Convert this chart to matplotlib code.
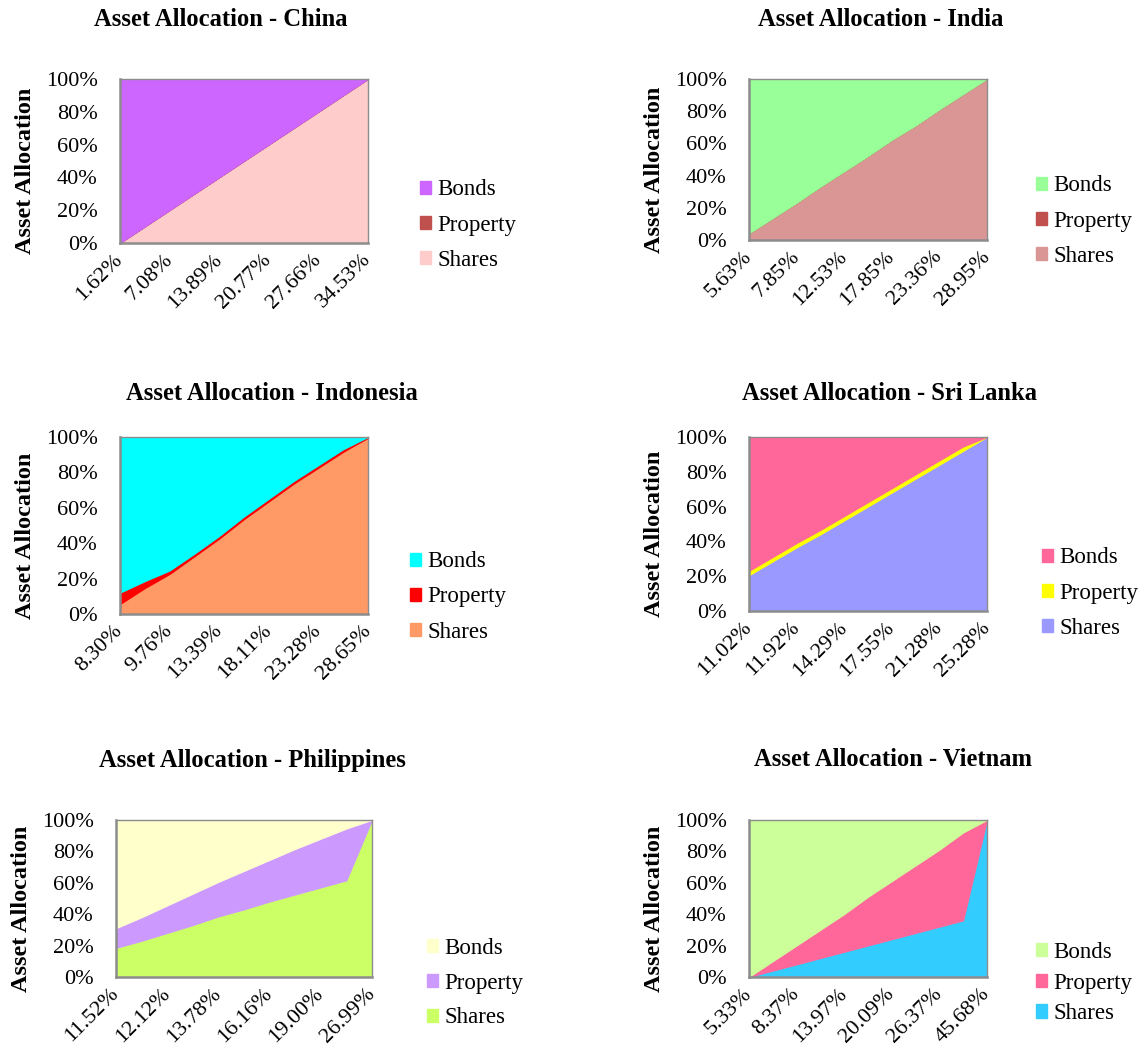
import matplotlib
matplotlib.use("Agg")
import matplotlib.pyplot as plt
from matplotlib.patches import Patch
from matplotlib.ticker import FuncFormatter

plt.rcParams['font.family'] = ['Liberation Serif', 'DejaVu Serif']

W, H = 1143, 1059

# Asset mix (%) along each country's return scale, 11 points per chart
china_labels = ['1.62%', '7.08%', '13.89%', '20.77%', '27.66%', '34.53%']
china_shares = [0, 10, 20, 30, 40, 50, 60, 70, 80, 90, 100]
china_property = [0, 0, 0, 0, 0, 0, 0, 0, 0, 0, 0]
china_bonds = [100, 90, 80, 70, 60, 50, 40, 30, 20, 10, 0]

india_labels = ['5.63%', '7.85%', '12.53%', '17.85%', '23.36%', '28.95%']
india_shares = [4, 13.5, 23, 33, 42.5, 52, 62, 71, 81, 90.5, 100]
india_property = [0, 0, 0, 0, 0, 0, 0, 0, 0, 0, 0]
india_bonds = [96, 86.5, 77, 67, 57.5, 48, 38, 29, 19, 9.5, 0]

indonesia_labels = ['8.30%', '9.76%', '13.39%', '18.11%', '23.28%', '28.65%']
indonesia_shares = [6, 15, 23, 33, 43, 54, 64, 74, 83, 92, 100]
indonesia_property = [6, 3.5, 1.5, 1, 1, 1, 1, 1, 1, 1, 0]
indonesia_bonds = [88, 81.5, 75.5, 66, 56, 45, 35, 25, 16, 7, 0]

srilanka_labels = ['11.02%', '11.92%', '14.29%', '17.55%', '21.28%', '25.28%']
srilanka_shares = [20.5, 28.5, 36.5, 44, 52, 60, 68, 76, 84, 92, 100]
srilanka_property = [2.5, 2.5, 2.5, 2.5, 2.5, 2.5, 2.5, 2.5, 2.5, 2.5, 0]
srilanka_bonds = [77, 69, 61, 53.5, 45.5, 37.5, 29.5, 21.5, 13.5, 5.5, 0]

philippines_labels = ['11.52%', '12.12%', '13.78%', '16.16%', '19.00%', '26.99%']
philippines_shares = [18.5, 23, 28, 33, 38.5, 43, 48, 52.5, 57, 61.5, 100]
philippines_property = [12.5, 15, 17.5, 20, 22, 24.5, 26.5, 29, 31, 33, 0]
philippines_bonds = [69, 62, 54.5, 47, 39.5, 32.5, 25.5, 18.5, 12, 5.5, 0]

vietnam_labels = ['5.33%', '8.37%', '13.97%', '20.09%', '26.37%', '45.68%']
vietnam_shares = [0, 4, 8, 12, 16, 20, 24, 28, 32, 36, 100]
vietnam_property = [0, 6, 12, 18, 24, 31, 37, 43, 49, 56, 0]
vietnam_bonds = [100, 90, 80, 70, 60, 49, 39, 29, 19, 8, 0]

series = ['Bonds', 'Property', 'Shares']

# name, labels, shares, property, bonds, colours (bonds, property, shares)
charts = [
    ('China', china_labels, china_shares, china_property, china_bonds,
     ['#CC66FF', '#C0504D', '#FFCCCC']),
    ('India', india_labels, india_shares, india_property, india_bonds,
     ['#99FF99', '#C0504D', '#D99694']),
    ('Indonesia', indonesia_labels, indonesia_shares, indonesia_property, indonesia_bonds,
     ['#00FFFF', '#FF0000', '#FF9966']),
    ('Sri Lanka', srilanka_labels, srilanka_shares, srilanka_property, srilanka_bonds,
     ['#FF6699', '#FFFF00', '#9999FF']),
    ('Philippines', philippines_labels, philippines_shares, philippines_property, philippines_bonds,
     ['#FFFFCC', '#CC99FF', '#CCFF66']),
    ('Vietnam', vietnam_labels, vietnam_shares, vietnam_property, vietnam_bonds,
     ['#CCFF99', '#FF6699', '#33CCFF']),
]

# pixel layout: plot box (left, top, right, bottom), title centre, legend (x, centre y, spacing)
layout = [
    ((120, 79, 368, 243), (221, 19), (420, 225, 0.62)),
    ((749, 79, 987, 240), (881, 19), (1036, 221, 0.62)),
    ((120, 437, 368, 614), (272, 394), (410, 597, 0.62)),
    ((749, 437, 987, 611), (889, 393), (1042, 593, 0.62)),
    ((116, 820, 372, 977), (252, 760), (427, 983, 0.6)),
    ((749, 820, 987, 977), (893, 760), (1036, 983, 0.42)),
]

fig = plt.figure(figsize=(W / 100, H / 100), dpi=100)

for (name, labels, shares, prop, bonds, colors), (box, tpos, leg) in zip(charts, layout):
    l, t, r, b = box
    ax = fig.add_axes([l / W, 1 - b / H, (r - l) / W, (b - t) / H])
    x = list(range(len(shares)))
    fills = [colors[2], colors[1], colors[0]]
    polys = ax.stackplot(x, shares, prop, bonds, colors=fills)
    for p, c in zip(polys, fills):
        p.set_edgecolor(c)
        p.set_linewidth(0.6)
    if name == 'Indonesia':
        polys[1].set_linewidth(1.6)

    ax.set_xlim(0, len(shares) - 1)
    ax.set_ylim(0, 100)
    ax.set_xticks(x[::2])
    ax.set_xticklabels(labels, rotation=45, ha='right', va='center', rotation_mode='anchor')
    ax.set_yticks([0, 20, 40, 60, 80, 100])
    ax.yaxis.set_major_formatter(FuncFormatter(lambda v, pos: f'{v:.0f}%'))
    ax.tick_params(axis='y', length=0, pad=16, labelsize=16)
    ax.tick_params(axis='x', length=0, pad=10, labelsize=16)
    for side, sp in ax.spines.items():
        sp.set_color('#8c8c8c')
        sp.set_linewidth(1.8 if side in ('bottom', 'left') else 1.0)

    ax.set_ylabel('Asset Allocation', fontsize=17.5, fontweight='bold')
    ax.yaxis.set_label_coords(-84 / (r - l), 0.5 - 10 / (b - t))

    fig.text(tpos[0] / W, 1 - tpos[1] / H, f'Asset Allocation - {name}',
             ha='center', va='center', fontsize=17.7, fontweight='bold')

    handles = [Patch(facecolor=c, edgecolor=c) for c in colors]
    fig.legend(handles, series, loc='center left',
               bbox_to_anchor=(leg[0] / W, 1 - leg[1] / H),
               frameon=False, fontsize=16.5, borderpad=0, borderaxespad=0,
               handlelength=0.5, handleheight=0.5, handletextpad=0.25,
               labelspacing=leg[2])

fig.savefig('out.png', dpi=100)
